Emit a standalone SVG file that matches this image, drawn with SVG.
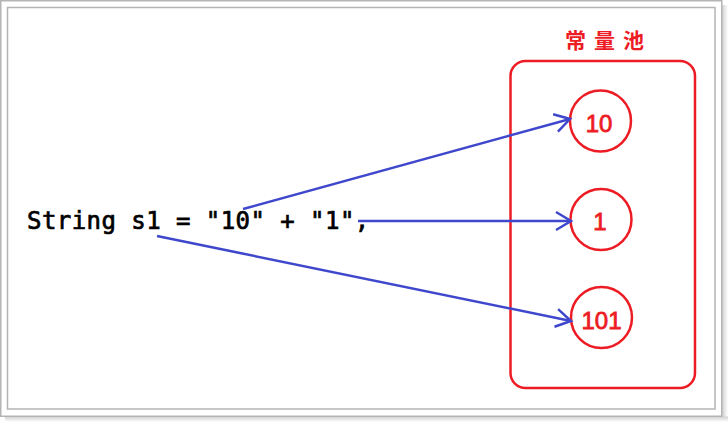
<svg xmlns="http://www.w3.org/2000/svg" width="728" height="422" viewBox="0 0 728 422">
<style>
.frame{fill:none;stroke:#b4b4b4;stroke-width:1.5}
.pool{fill:none;stroke:#ed1c24;stroke-width:2.5}
.num{font-family:"Liberation Sans",Arial,sans-serif;font-size:24px;font-weight:normal;fill:#ed1c24;stroke:#ed1c24;stroke-width:0.8;text-anchor:middle}
.title{font-family:"Noto Sans CJK SC",sans-serif;font-size:21px;font-weight:bold;fill:#ed1c24;letter-spacing:8px}
.code{font-family:"DejaVu Sans Mono",monospace;font-size:24px;font-weight:normal;fill:#000;stroke:#000;stroke-width:0.7;letter-spacing:0.45px}
.conn{fill:none;stroke:#3f48cc;stroke-width:2.5;marker-end:url(#arr)}
</style>
<defs>
<marker id="arr" markerUnits="userSpaceOnUse" markerWidth="40" markerHeight="40" refX="0" refY="0" viewBox="-20 -20 40 40" orient="auto" overflow="visible">
<path d="M-15,-9 L0,0 L-15,9" fill="none" stroke="#3f48cc" stroke-width="2.5"/>
</marker>
<linearGradient id="shR" x1="0" y1="0" x2="1" y2="0"><stop offset="0" stop-color="#d0d0d0"/><stop offset="1" stop-color="#ffffff"/></linearGradient>
<linearGradient id="shB" x1="0" y1="0" x2="0" y2="1"><stop offset="0" stop-color="#d0d0d0"/><stop offset="1" stop-color="#ffffff"/></linearGradient>
</defs>
<rect width="728" height="422" fill="#fff"/>
<g id="frame">
<rect x="722" y="5" width="6" height="417" fill="url(#shR)"/>
<rect x="5" y="416.5" width="723" height="5.5" fill="url(#shB)"/>
<rect x="0.75" y="0.75" width="721" height="415.5" fill="#fff" class="frame"/>
<rect x="7.5" y="7.5" width="707.5" height="401.5" class="frame"/>
</g>
<g id="code">
<text class="code" x="27" y="229">String s1 = "10" + "1",</text>
</g>
<g id="pool">
<rect class="pool" x="510.5" y="61" width="184.5" height="327" rx="15" ry="15"/>
<text class="title" x="565" y="48">常量池</text>
</g>
<g id="c10">
<circle class="pool" cx="600.5" cy="121" r="30.5"/>
<text class="num" x="599" y="132">10</text>
</g>
<g id="c1">
<circle class="pool" cx="601" cy="219.5" r="30.5"/>
<text class="num" x="600" y="230">1</text>
</g>
<g id="c101">
<circle class="pool" cx="601.5" cy="317.5" r="30.5"/>
<text class="num" x="601.5" y="329">101</text>
</g>
<g id="connectors">
<line class="conn" x1="243" y1="209" x2="570" y2="119"/>
<line class="conn" x1="358" y1="221" x2="571" y2="221"/>
<line class="conn" x1="157" y1="236" x2="571" y2="321"/>
</g>
</svg>
